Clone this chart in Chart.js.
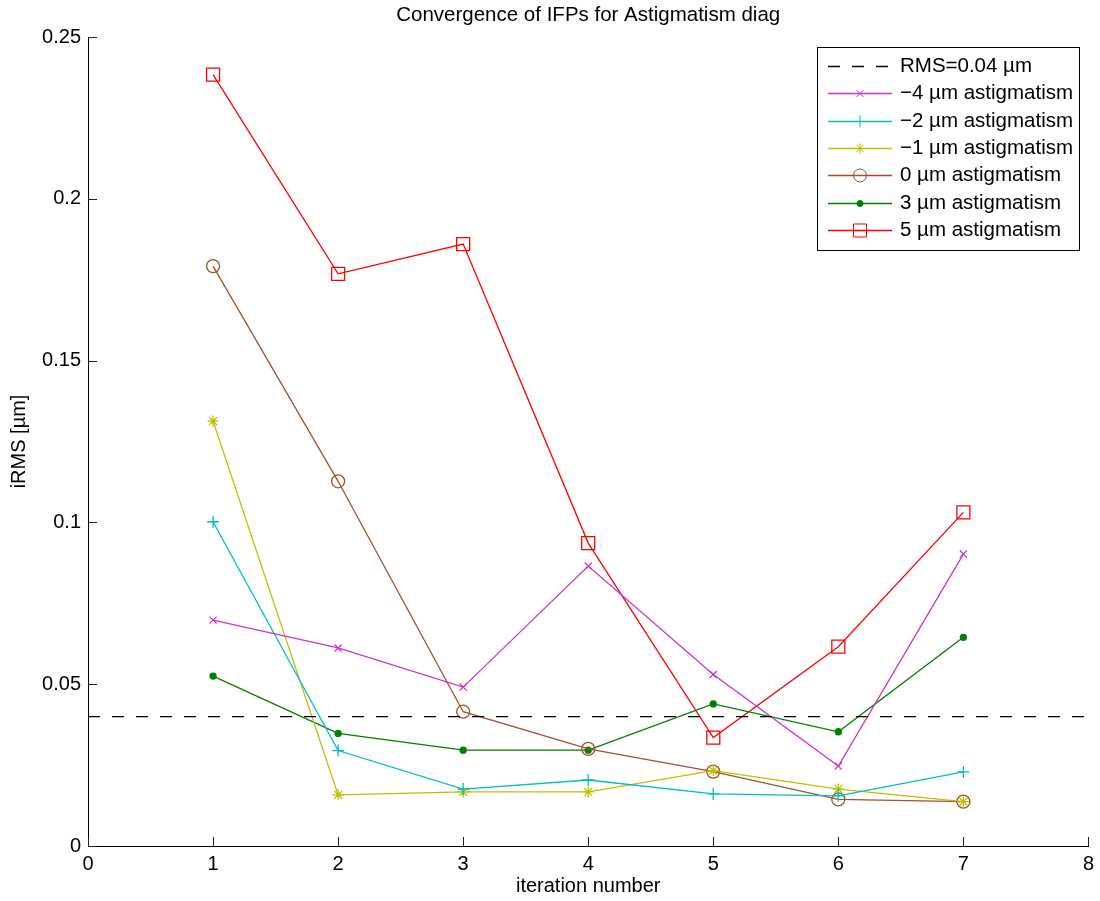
<!DOCTYPE html>
<html>
<head>
<meta charset="utf-8">
<title>Convergence of IFPs</title>
<script src="https://cdn.jsdelivr.net/npm/chart.js@4.4.0/dist/chart.umd.min.js"></script>
<style>
    html, body { margin: 0; padding: 0; background: #fff; }
    #wrap { width: 1100px; height: 901px; }
</style>
</head>
<body>
<div id="wrap"><canvas id="chartIfp"></canvas></div>
<script>
// iRMS per iteration, one array per astigmatism level
const iterations = [1, 2, 3, 4, 5, 6, 7];
const astigM4 = [0.0698, 0.0612, 0.0491, 0.0865, 0.0530, 0.0247, 0.0902];
const astigM2 = [0.1002, 0.0295, 0.0176, 0.0204, 0.0161, 0.0155, 0.0229];
const astigM1 = [0.1313, 0.0158, 0.0167, 0.0167, 0.0233, 0.0176, 0.0137];
const astig0 = [0.1792, 0.1127, 0.0415, 0.0300, 0.0230, 0.0144, 0.0137];
const astig3 = [0.0525, 0.0348, 0.0296, 0.0296, 0.0439, 0.0353, 0.0645];
const astig5 = [0.2384, 0.1768, 0.1860, 0.0936, 0.0335, 0.0616, 0.1031];
const rmsLimit = 0.04;
const rmsSpan = [0, 8];
const xTicks = [0, 1, 2, 3, 4, 5, 6, 7, 8];
const yTicks = [0, 0.05, 0.1, 0.15, 0.2, 0.25];
const chartTitle = 'Convergence of IFPs for Astigmatism diag';

const FONT = "'Liberation Sans', Arial, Helvetica, sans-serif";

function pts(values) {
    return values.map((v, i) => ({ x: iterations[i], y: v }));
}

function series(label, values, color, style, radius, fill) {
    return {
        label: label,
        data: pts(values),
        borderColor: color,
        backgroundColor: fill || 'rgba(0,0,0,0)',
        borderWidth: 1.3,
        pointStyle: style,
        pointRadius: radius,
        pointBorderColor: color,
        pointBackgroundColor: fill || 'rgba(0,0,0,0)',
        pointBorderWidth: 1.3,
        tension: 0
    };
}

// title centred over the axes rather than the whole canvas
const axesTitle = {
    id: 'axesTitle',
    afterDraw(chart) {
        const ctx = chart.ctx;
        const a = chart.chartArea;
        ctx.save();
        ctx.font = '20.5px ' + FONT;
        ctx.fillStyle = '#000';
        ctx.textAlign = 'center';
        ctx.textBaseline = 'middle';
        ctx.fillText(chartTitle, (a.left + a.right) / 2, 15);
        ctx.restore();
    }
};

// MATLAB-style ticks pointing into the plot
const inwardTicks = {
    id: 'inwardTicks',
    afterDatasetsDraw(chart) {
        const ctx = chart.ctx;
        const xs = chart.scales.x, ys = chart.scales.y;
        const len = 9;
        ctx.save();
        ctx.strokeStyle = '#222';
        ctx.lineWidth = 1;
        ctx.beginPath();
        xs.ticks.forEach(t => {
            const px = Math.round(xs.getPixelForValue(t.value)) + 0.5;
            ctx.moveTo(px, ys.bottom);
            ctx.lineTo(px, ys.bottom - len);
        });
        ys.ticks.forEach(t => {
            const py = Math.round(ys.getPixelForValue(t.value)) + 0.5;
            ctx.moveTo(xs.left, py);
            ctx.lineTo(xs.left + len, py);
        });
        ctx.stroke();
        ctx.restore();
    }
};

// boxed legend with line sample and marker, drawn over the data
const boxLegend = {
    id: 'boxLegend',
    afterDraw(chart) {
        const ctx = chart.ctx;
        const x0 = 817, y0 = 47, w = 262, h = 203;
        const rowY = 66, rowStep = 27.3;
        ctx.save();
        ctx.fillStyle = '#fff';
        ctx.fillRect(x0, y0, w, h);
        ctx.strokeStyle = '#000';
        ctx.lineWidth = 1;
        ctx.strokeRect(x0 + 0.5, y0 + 0.5, w, h);
        ctx.font = '20.5px ' + FONT;
        ctx.textBaseline = 'middle';
        chart.data.datasets.forEach((ds, i) => {
            const y = Math.round(rowY + i * rowStep) + 0.5;
            ctx.save();
            ctx.strokeStyle = ds.borderColor;
            ctx.lineWidth = ds.borderWidth;
            ctx.setLineDash(ds.borderDash || []);
            ctx.beginPath();
            ctx.moveTo(828, y);
            ctx.lineTo(892, y);
            ctx.stroke();
            ctx.restore();
            if (ds.pointRadius > 0) {
                ctx.save();
                ctx.strokeStyle = ds.pointBorderColor;
                ctx.fillStyle = ds.pointBackgroundColor;
                Chart.helpers.drawPoint(ctx, {
                    pointStyle: ds.pointStyle,
                    radius: ds.pointRadius,
                    rotation: 0,
                    borderWidth: ds.pointBorderWidth
                }, 860, y);
                ctx.restore();
            }
            ctx.fillStyle = '#000';
            ctx.fillText(ds.label, 900, y);
        });
        ctx.restore();
    }
};

new Chart(document.getElementById('chartIfp'), {
    type: 'line',
    data: {
        datasets: [{
            label: 'RMS=0.04 µm',
            data: rmsSpan.map(x => ({ x: x, y: rmsLimit })),
            borderColor: '#000',
            borderWidth: 1.3,
            borderDash: [12, 12],
            pointRadius: 0
        },
            series('\u22124 µm astigmatism', astigM4, '#cc33cc', 'crossRot', 5),
            series('\u22122 µm astigmatism', astigM2, '#00bfbf', 'cross', 6),
            series('\u22121 µm astigmatism', astigM1, '#bfbf00', 'star', 5.5),
            series('0 µm astigmatism', astig0, '#a0522d', 'circle', 6.5),
            series('3 µm astigmatism', astig3, '#008000', 'circle', 3, '#008000'),
            series('5 µm astigmatism', astig5, '#ff0000', 'rect', 9.2)
        ]
    },
    options: {
        responsive: true,
        maintainAspectRatio: false,
        animation: false,
        layout: { padding: { left: 0, right: 11, top: 37, bottom: 0 } },
        scales: {
            x: {
                type: 'linear',
                min: 0,
                max: 8,
                afterBuildTicks: s => { s.ticks = xTicks.map(v => ({ value: v })); },
                afterFit: s => { s.height = 55; },
                grid: { drawOnChartArea: false, drawTicks: false },
                border: { display: true, color: '#000', width: 1 },
                ticks: { color: '#000', padding: 6, font: { family: FONT, size: 20 }, maxRotation: 0 },
                title: { display: true, text: 'iteration number', color: '#000', padding: { top: 0, bottom: 3 }, font: { family: FONT, size: 20 } }
            },
            y: {
                min: 0,
                max: 0.25,
                afterBuildTicks: s => { s.ticks = yTicks.map(v => ({ value: v })); },
                afterFit: s => { s.width = 88; },
                grid: { drawOnChartArea: false, drawTicks: false },
                border: { display: true, color: '#000', width: 1 },
                ticks: { color: '#000', padding: 7, font: { family: FONT, size: 20 }, callback: v => String(v) },
                title: { display: true, text: 'iRMS [µm]', color: '#000', padding: { top: 7, bottom: 0 }, font: { family: FONT, size: 20 } }
            }
        },
        plugins: {
            legend: { display: false },
            tooltip: { enabled: false },
            title: { display: false }
        }
    },
    plugins: [inwardTicks, boxLegend, axesTitle]
});
</script>
</body>
</html>
